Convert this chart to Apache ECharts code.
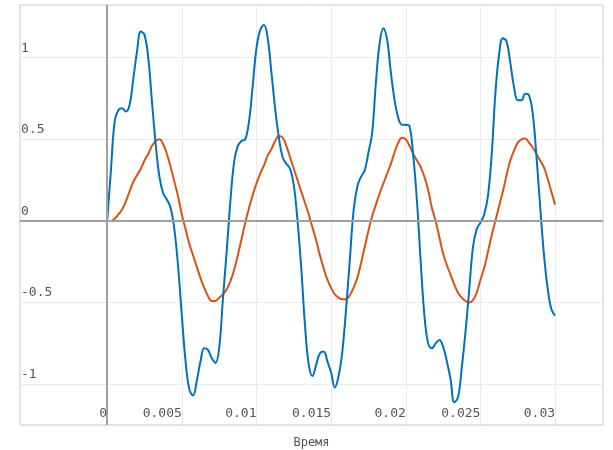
<!DOCTYPE html>
<html>

<head>
  <meta charset="UTF-8">
  <title>Сигнал</title>
  <script src="https://cdn.jsdelivr.net/npm/echarts@6.0.0/dist/echarts.min.js"></script>
  <style>
    html, body { margin: 0; padding: 0; background: #fff; }
  </style>
</head>

<body>
  <div id="main" style="width: 613px;height:450px;"></div>
  <script type="text/javascript">
    // время, с (шаг 0.25 мс)
    var time = [
      0, 0.00025, 0.0005, 0.00075, 0.001, 0.00125, 0.0015, 0.00175,
      0.002, 0.00225, 0.0025, 0.00275, 0.003, 0.00325, 0.0035, 0.00375,
      0.004, 0.00425, 0.0045, 0.00475, 0.005, 0.00525, 0.0055, 0.00575,
      0.006, 0.00625, 0.0065, 0.00675, 0.007, 0.00725, 0.0075, 0.00775,
      0.008, 0.00825, 0.0085, 0.00875, 0.009, 0.00925, 0.0095, 0.00975,
      0.01, 0.01025, 0.0105, 0.01075, 0.011, 0.01125, 0.0115, 0.01175,
      0.012, 0.01225, 0.0125, 0.01275, 0.013, 0.01325, 0.0135, 0.01375,
      0.014, 0.01425, 0.0145, 0.01475, 0.015, 0.01525, 0.0155, 0.01575,
      0.016, 0.01625, 0.0165, 0.01675, 0.017, 0.01725, 0.0175, 0.01775,
      0.018, 0.01825, 0.0185, 0.01875, 0.019, 0.01925, 0.0195, 0.01975,
      0.02, 0.02025, 0.0205, 0.02075, 0.021, 0.02125, 0.0215, 0.02175,
      0.022, 0.02225, 0.0225, 0.02275, 0.023, 0.02325, 0.0235, 0.02375,
      0.024, 0.02425, 0.0245, 0.02475, 0.025, 0.02525, 0.0255, 0.02575,
      0.026, 0.02625, 0.0265, 0.02675, 0.027, 0.02725, 0.0275, 0.02775,
      0.028, 0.02825, 0.0285, 0.02875, 0.029, 0.02925, 0.0295, 0.02975,
      0.03
    ];

    // входной сигнал (синий)
    var signalIn = [
      0, 0.31, 0.61, 0.68, 0.69, 0.67, 0.71, 0.87,
      1.04, 1.16, 1.14, 1.00, 0.73, 0.47, 0.27, 0.17,
      0.13, 0.08, -0.05, -0.28, -0.58, -0.86, -1.03, -1.07,
      -0.98, -0.86, -0.78, -0.79, -0.84, -0.87, -0.78, -0.48,
      -0.19, 0.12, 0.36, 0.46, 0.49, 0.50, 0.61, 0.83,
      1.06, 1.17, 1.20, 1.12, 0.91, 0.69, 0.51, 0.39,
      0.35, 0.32, 0.22, 0.00, -0.29, -0.64, -0.88, -0.95,
      -0.88, -0.81, -0.80, -0.86, -0.93, -1.02, -0.95, -0.80,
      -0.54, -0.24, 0.06, 0.21, 0.27, 0.31, 0.42, 0.54,
      0.85, 1.09, 1.18, 1.11, 0.91, 0.74, 0.63, 0.59,
      0.59, 0.58, 0.40, 0.12, -0.25, -0.58, -0.75, -0.78,
      -0.75, -0.73, -0.77, -0.86, -0.97, -1.11, -1.08, -0.90,
      -0.68, -0.42, -0.16, -0.05, -0.01, 0.04, 0.15, 0.40,
      0.78, 1.02, 1.12, 1.10, 0.97, 0.82, 0.74, 0.74,
      0.78, 0.77, 0.66, 0.40, 0.09, -0.20, -0.41, -0.54,
      -0.58
    ];

    // выходной сигнал (оранжевый)
    var signalOut = [
      0, 0.00, 0.015, 0.04, 0.07, 0.12, 0.18, 0.24,
      0.28, 0.32, 0.37, 0.41, 0.46, 0.49, 0.50, 0.47,
      0.41, 0.33, 0.24, 0.15, 0.04, -0.05, -0.14, -0.21,
      -0.28, -0.35, -0.41, -0.46, -0.49, -0.49, -0.47, -0.45,
      -0.42, -0.37, -0.30, -0.21, -0.11, -0.01, 0.08, 0.16,
      0.23, 0.29, 0.34, 0.40, 0.44, 0.49, 0.52, 0.51,
      0.46, 0.39, 0.32, 0.25, 0.18, 0.11, 0.04, -0.04,
      -0.12, -0.21, -0.29, -0.36, -0.41, -0.45, -0.47, -0.48,
      -0.48, -0.455, -0.41, -0.35, -0.26, -0.16, -0.06, 0.03,
      0.10, 0.17, 0.23, 0.29, 0.35, 0.42, 0.48, 0.51,
      0.50, 0.46, 0.41, 0.37, 0.33, 0.27, 0.19, 0.08,
      0.00, -0.10, -0.20, -0.27, -0.33, -0.39, -0.44, -0.47,
      -0.49, -0.50, -0.485, -0.44, -0.36, -0.29, -0.19, -0.09,
      0.00, 0.09, 0.18, 0.28, 0.37, 0.43, 0.48, 0.50,
      0.505, 0.48, 0.45, 0.41, 0.37, 0.33, 0.26, 0.18,
      0.10
    ];

    // подписи осей
    var xTicks = [0, 0.005, 0.01, 0.015, 0.02, 0.025, 0.03];
    var yTicks = [-1, -0.5, 0, 0.5, 1];

    var xRange = [-0.00584, 0.03321];
    var yRange = [-1.25, 1.323];

    function pairs(ys) {
      return time.map(function (t, i) { return [t, ys[i]]; });
    }

    var monoFont = 'DejaVu Sans Mono';
    var myChart = echarts.init(document.getElementById('main'));

    var option = {
      animation: false,
      grid: {
        left: 20,
        right: 10,
        top: 5,
        bottom: 25,
        containLabel: false,
        outerBoundsMode: 'none',
        show: true,
        borderColor: '#c8c8c8',
        borderWidth: 1
      },
      tooltip: { trigger: 'axis' },
      xAxis: {
        type: 'value',
        min: xRange[0],
        max: xRange[1],
        name: 'Время',
        nameLocation: 'middle',
        nameGap: 12,
        nameTextStyle: { fontFamily: monoFont, fontSize: 12, color: '#555' },
        axisLine: { show: false },
        axisTick: { show: false, customValues: xTicks },
        axisLabel: {
          customValues: xTicks,
          inside: true,
          align: 'right',
          margin: 5,
          fontFamily: monoFont,
          fontSize: 13,
          color: '#555',
          formatter: function (v) { return String(+v.toFixed(4)); }
        },
        splitLine: { lineStyle: { color: '#ebebeb', width: 1 } }
      },
      yAxis: {
        type: 'value',
        min: yRange[0],
        max: yRange[1],
        axisLine: { show: false },
        axisTick: { show: false, customValues: yTicks },
        axisLabel: {
          customValues: yTicks,
          inside: true,
          align: 'left',
          verticalAlign: 'bottom',
          margin: 1,
          padding: [0, 0, 3, 0],
          fontFamily: monoFont,
          fontSize: 13,
          color: '#555'
        },
        splitLine: { lineStyle: { color: '#ebebeb', width: 1 } }
      },
      series: [{
        // нулевые оси
        type: 'line',
        data: [],
        z: 1,
        silent: true,
        markLine: {
          silent: true,
          symbol: 'none',
          label: { show: false },
          lineStyle: { color: '#a0a0a0', width: 2, type: 'solid' },
          data: [{ yAxis: 0 }, { xAxis: 0 }]
        }
      }, {
        name: 'Вход',
        type: 'line',
        data: pairs(signalIn),
        smooth: 0.4,
        showSymbol: false,
        z: 3,
        lineStyle: { color: '#0072bd', width: 2 },
        itemStyle: { color: '#0072bd' }
      }, {
        name: 'Выход',
        type: 'line',
        data: pairs(signalOut),
        smooth: 0.4,
        showSymbol: false,
        z: 2,
        lineStyle: { color: '#d95319', width: 2 },
        itemStyle: { color: '#d95319' }
      }]
    };

    myChart.setOption(option);
  </script>
</body>

</html>
